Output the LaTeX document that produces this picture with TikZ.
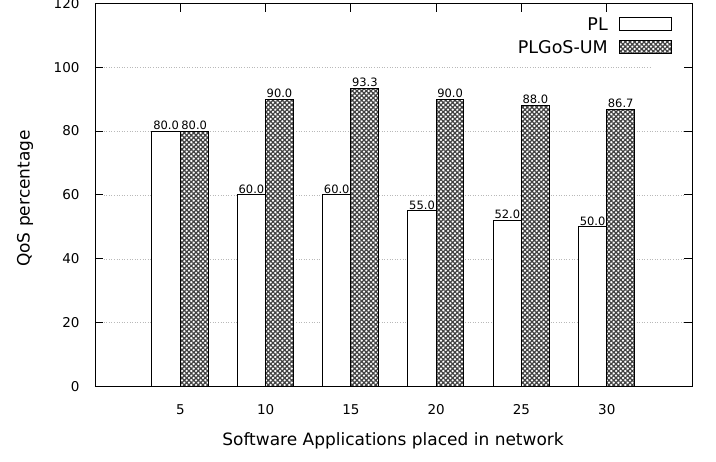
\documentclass[tikz,border=0pt]{standalone}
\usepackage{fontspec}
\setmainfont{DejaVu Sans}
\usetikzlibrary{patterns.meta}

\tikzset{
    plbar/.style={draw, line width=0.9pt, fill=white},
    umbar/.style={draw, line width=0.9pt, preaction={fill=white},
        pattern={Hatch[angle=45, distance=3.3pt, line width=1.2pt]},
        pattern color=black!75},
    vallabel/.style={anchor=south, inner sep=1.5pt, font=\fontsize{11.5}{13}\selectfont},
    ticklabel/.style={font=\fontsize{13.5}{15}\selectfont},
    keylabel/.style={anchor=east, inner sep=0pt, font=\fontsize{17.5}{19}\selectfont},
    axislabel/.style={font=\fontsize{17}{19}\selectfont},
    gridline/.style={gray!55, dotted, line width=0.6pt},
}

\begin{document}
\begin{tikzpicture}[x=85.3pt, y=3.196pt]
    \useasboundingbox (-95pt,-75.3pt) rectangle (621pt,386.7pt);

    % Grid lines
    \foreach \v in {20,40,60,80} {
        \draw[gridline] (0.1,\v) -- (6.9,\v);
    }
    \draw[gridline] (0.1,100) -- (6.53,100);

    % Bars
    \foreach \g/\pl/\um in {1/80.0/80.0, 2/60.0/90.0, 3/60.0/93.3, 4/55.0/90.0, 5/52.0/88.0, 6/50.0/86.7} {
        \draw[plbar] (\g-0.333,0) rectangle (\g,\pl);
        \draw[umbar] (\g,0) rectangle (\g+0.325,\um);
        \node[vallabel] (pl\g) at (\g-0.166,\pl) {\pl};
        \node[vallabel] (um\g) at (\g+0.163,\um) {\um};
    }

    % Ticks and tick labels
    \foreach \g/\t in {1/5, 2/10, 3/15, 4/20, 5/25, 6/30} {
        \draw[line width=0.9pt] (\g,0) -- ++(0,9pt);
        \draw[line width=0.9pt] (\g,120) -- ++(0,-9pt);
        \node[ticklabel] (xt\g) at ([yshift=-23.3pt]\g,0) {\t};
    }
    \foreach \v in {0,20,40,60,80,100,120} {
        \draw[line width=0.9pt] (0,\v) -- ++(8pt,0);
        \draw[line width=0.9pt] (7,\v) -- ++(-8pt,0);
        \node[ticklabel, anchor=east] (yt\v) at ([xshift=-12pt]0,\v) {\v};
    }

    % Frame
    \draw[line width=0.9pt] (0,0) rectangle (7,120);

    % Axis labels
    \node[axislabel] (xlab) at ([yshift=-54.3pt]3.494,0) {Software Applications placed in network};
    \node[axislabel, rotate=90] (ylab) at ([xshift=-70pt]0,58.9) {QoS percentage};

    % Legend
    \node[keylabel] (keypl) at (6.014,113.6) {PL};
    \draw[plbar] (6.143,111.6) rectangle (6.753,115.4);
    \node[keylabel] (keyum) at (6.014,106.3) {PLGoS-UM};
    \draw[umbar] (6.143,104.4) rectangle (6.753,108.2);
\end{tikzpicture}
\end{document}
